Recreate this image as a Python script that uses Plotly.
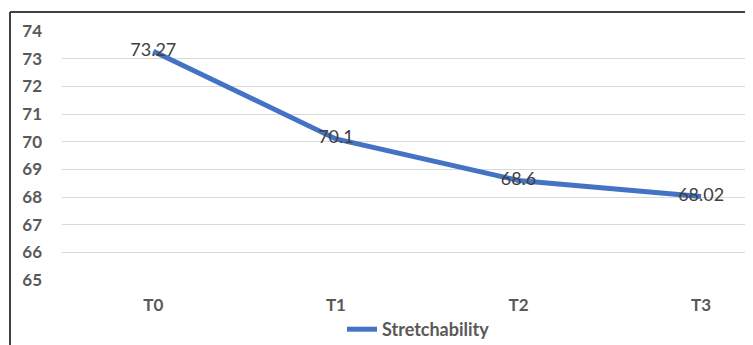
import plotly.graph_objects as go

categories = ["T0", "T1", "T2", "T3"]
values = [73.27, 70.1, 68.6, 68.02]
labels = ["73.27", "70.1", "68.6", "68.02"]
series_name = "Stretchability"
y_ticks = [65, 66, 67, 68, 69, 70, 71, 72, 73, 74]

# page body adds an 8px offset; figure sized to fill the rest of the window
OFF = 8
W, H = 753 - OFF, 345 - OFF
L, R, T, B = 62 - OFF, 0, 31 - OFF, 345 - 280
pw = W - L - R
ph = H - T - B

def px_to_paper_x(px):
    return (px - OFF - L) / pw

def px_to_paper_y(py):
    return (H - B - (py - OFF)) / ph

fig = go.Figure()
fig.add_trace(go.Scatter(
    x=categories, y=values, mode="lines+text",
    name=series_name,
    text=labels, textposition="middle center",
    textfont=dict(family="Lato", size=18, color="#404040"),
    line=dict(color="#4472C4", width=5),
    cliponaxis=False,
))

fig.update_layout(
    width=W, height=H,
    margin=dict(l=L, r=R, t=T, b=B, autoexpand=False),
    paper_bgcolor="white", plot_bgcolor="white",
    showlegend=True,
    legend=dict(orientation="h", xref="container", yref="container",
                x=(342 - OFF) / W, xanchor="left",
                y=1 - (311 - OFF) / H, yanchor="top",
                font=dict(family="Lato", size=18, color="#595959", weight="bold"),
                bgcolor="rgba(0,0,0,0)"),
    xaxis=dict(type="category", range=[-0.5, 3.284], showgrid=False,
               showline=False, zeroline=False, ticks="",
               tickfont=dict(family="Lato", size=17, color="#595959", weight="bold"),
               ticklabelstandoff=13),
    yaxis=dict(range=[65, 74], tickvals=y_ticks, showgrid=True,
               gridcolor="#d9d9d9", gridwidth=1, zeroline=False, showline=False,
               ticks="",
               tickfont=dict(family="Lato", size=17, color="#595959", weight="bold"),
               ticklabelstandoff=19),
    shapes=[
        dict(type="line", xref="paper", yref="paper",
             x0=px_to_paper_x(10), x1=px_to_paper_x(10),
             y0=px_to_paper_y(12), y1=px_to_paper_y(360),
             line=dict(color="#404040", width=2)),
        dict(type="line", xref="paper", yref="paper",
             x0=px_to_paper_x(10), x1=px_to_paper_x(770),
             y0=px_to_paper_y(12), y1=px_to_paper_y(12),
             line=dict(color="#404040", width=2)),
    ],
)

fig.write_html("out.html")
